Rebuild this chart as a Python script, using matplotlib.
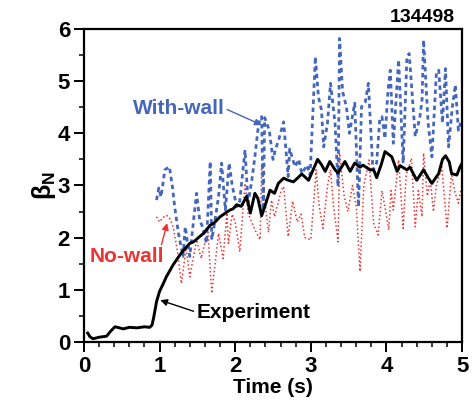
import matplotlib
matplotlib.use("Agg")
import matplotlib.pyplot as plt
from matplotlib.ticker import MultipleLocator

plt.rcParams['font.family'] = ['Liberation Sans Narrow', 'Liberation Sans', 'DejaVu Sans']
plt.rcParams['font.weight'] = 'bold'
plt.rcParams['mathtext.fontset'] = 'custom'
plt.rcParams['mathtext.rm'] = 'Liberation Sans'
plt.rcParams['mathtext.it'] = 'Liberation Sans:italic'

# ---------------- data ----------------
exp_t = [0.05, 0.08, 0.12, 0.2, 0.3, 0.35, 0.41, 0.47, 0.52, 0.6, 0.7, 0.8, 0.87, 0.90, 0.92,
         0.96, 1.0, 1.05, 1.09, 1.18, 1.27, 1.33, 1.40, 1.45, 1.53, 1.58, 1.67, 1.72, 1.80,
         1.85, 1.93, 1.97, 2.02, 2.08, 2.15, 2.2, 2.26, 2.30, 2.35, 2.39, 2.46, 2.52, 2.57,
         2.64, 2.70, 2.77, 2.83, 2.88, 2.97, 3.03, 3.09, 3.14, 3.19, 3.25, 3.32, 3.36, 3.45,
         3.52, 3.58, 3.65, 3.69, 3.78, 3.83, 3.87, 3.93, 3.98, 4.07, 4.14, 4.18, 4.27, 4.31,
         4.40, 4.49, 4.55, 4.60, 4.69, 4.74, 4.78, 4.83, 4.86, 4.93, 4.97, 5.0]
exp_beta = [0.17, 0.10, 0.06, 0.09, 0.11, 0.2, 0.29, 0.27, 0.25, 0.28, 0.27, 0.29, 0.28, 0.32, 0.45,
            0.77, 0.97, 1.12, 1.25, 1.48, 1.67, 1.78, 1.89, 1.92, 2.02, 2.08, 2.24, 2.28, 2.40,
            2.45, 2.53, 2.55, 2.63, 2.6, 2.79, 2.47, 2.85, 2.75, 2.42, 2.59, 2.91, 2.85, 3.04,
            3.14, 3.1, 3.07, 3.15, 3.22, 3.1, 3.3, 3.5, 3.4, 3.27, 3.46, 3.3, 3.24, 3.46,
            3.27, 3.43, 3.35, 3.39, 3.3, 3.3, 3.15, 3.4, 3.65, 3.55, 3.27, 3.38, 3.3, 3.35,
            3.1, 3.3, 3.15, 3.04, 3.23, 3.5, 3.57, 3.45, 3.23, 3.2, 3.35, 3.43]

wall_t = [0.96, 0.99, 1.02, 1.07, 1.13, 1.17, 1.20, 1.25, 1.31, 1.34, 1.37, 1.40, 1.45, 1.49,
          1.53, 1.57, 1.62, 1.67, 1.69, 1.73, 1.78, 1.82, 1.87, 1.92, 1.96, 2.02, 2.06, 2.13,
          2.17, 2.22, 2.26, 2.31, 2.35, 2.37, 2.39, 2.45, 2.50, 2.53, 2.58, 2.64, 2.70, 2.72,
          2.79, 2.84, 2.88, 2.95, 2.99, 3.06, 3.10, 3.14, 3.17, 3.22, 3.26, 3.32, 3.36, 3.38,
          3.42, 3.47, 3.51, 3.58, 3.63, 3.67, 3.72, 3.76, 3.82, 3.87, 3.91, 3.94, 3.98, 4.02,
          4.05, 4.09, 4.16, 4.22, 4.27, 4.30, 4.38, 4.44, 4.47, 4.49, 4.55, 4.60, 4.66, 4.69,
          4.74, 4.78, 4.82, 4.87, 4.91, 4.95, 4.98]
wall_beta = [2.72, 2.95, 2.78, 3.30, 3.36, 2.98, 2.59, 2.08, 1.64, 2.21, 1.9, 1.64, 2.34, 2.85,
             2.34, 2.2, 1.89, 3.46, 1.96, 2.3, 2.79, 3.43, 2.53, 3.43, 3.0, 2.59, 2.7, 3.68,
             2.66, 3.1, 3.55, 4.19, 4.32, 2.53, 4.3, 4.06, 3.5, 3.68, 3.9, 4.22, 3.17, 3.7,
             3.36, 3.5, 3.23, 3.39, 3.2, 5.47, 4.7, 4.45, 3.74, 4.2, 4.96, 4.19, 2.98, 5.82,
             4.8, 4.51, 4.0, 4.58, 2.59, 4.51, 4.6, 4.96, 3.30, 3.43, 4.26, 4.32, 3.9, 4.83,
             5.21, 3.81, 5.41, 3.43, 5.47, 5.53, 3.94, 4.3, 4.64, 5.79, 4.2, 3.55, 5.18, 5.21,
             4.2, 5.24, 3.74, 4.5, 4.93, 4.06, 4.2]

nowall_t = [0.96, 1.0, 1.04, 1.09, 1.13, 1.18, 1.23, 1.29, 1.35, 1.40, 1.49, 1.55, 1.60, 1.64,
            1.69, 1.78, 1.84, 1.89, 1.91, 1.96, 2.0, 2.06, 2.13, 2.17, 2.26, 2.33, 2.35, 2.40,
            2.44, 2.48, 2.52, 2.61, 2.64, 2.70, 2.76, 2.82, 2.87, 2.92, 3.0, 3.07, 3.11, 3.16,
            3.22, 3.26, 3.3, 3.36, 3.38, 3.44, 3.49, 3.55, 3.6, 3.65, 3.7, 3.77, 3.83, 3.89,
            3.94, 3.99, 4.03, 4.06, 4.09, 4.16, 4.22, 4.26, 4.33, 4.38, 4.42, 4.47, 4.49, 4.54,
            4.58, 4.62, 4.66, 4.73, 4.80, 4.86, 4.9, 4.95, 4.98]
nowall_beta = [2.40, 2.3, 2.38, 2.43, 2.38, 2.21, 1.8, 1.12, 1.8, 1.25, 1.96, 1.6, 1.9, 2.1,
               0.93, 2.08, 1.6, 2.47, 1.89, 2.45, 2.3, 1.73, 3.04, 2.47, 2.15, 1.96, 3.43, 2.6,
               2.1, 2.72, 2.4, 2.91, 2.98, 2.02, 2.7, 2.3, 2.45, 2.0, 1.96, 3.3, 2.6, 2.18,
               3.0, 3.3, 2.6, 1.92, 3.62, 2.8, 2.5, 3.0, 2.6, 1.35, 3.0, 3.49, 2.27, 2.05,
               2.9, 2.5, 2.15, 2.9, 2.53, 3.49, 2.18, 3.2, 3.52, 2.21, 2.9, 2.4, 3.62, 2.8,
               3.1, 2.5, 3.0, 3.36, 2.18, 3.23, 2.9, 2.66, 2.9]

x_ticks = [0, 1, 2, 3, 4, 5]
y_ticks = [0, 1, 2, 3, 4, 5, 6]

BLUE = '#4466BB'
RED = '#EE3333'

# ---------------- figure ----------------
fig = plt.figure(figsize=(4.74, 4.09), dpi=100)
ax = fig.add_axes([0.177, 0.164, 0.798, 0.765])

ax.plot(nowall_t, nowall_beta, color=RED, lw=1.1, linestyle=(0, (1, 1.6)))
ax.plot(wall_t, wall_beta, color=BLUE, lw=2.0, linestyle=(0, (1.6, 1.3)))
ax.plot(exp_t, exp_beta, color='black', lw=2.1)

ax.set_xlim(0, 5)
ax.set_ylim(0, 6)
ax.set_xticks(x_ticks)
ax.set_yticks(y_ticks)
ax.xaxis.set_minor_locator(MultipleLocator(0.2))
ax.yaxis.set_minor_locator(MultipleLocator(0.5))
ax.tick_params(which='major', direction='out', length=7, width=1.4, labelsize=16, pad=3)
ax.tick_params(which='minor', direction='out', length=3.5, width=1.1)
for lab in ax.get_xticklabels() + ax.get_yticklabels():
    lab.set_fontweight('bold')
for s in ax.spines.values():
    s.set_linewidth(1.6)

ax.set_xlabel('Time (s)', fontsize=15, fontweight='bold', labelpad=1)
ax.set_ylabel(r'$\mathrm{\beta_N}$', fontsize=18, labelpad=0)

ax.annotate('With-wall', xy=(2.35, 4.16), xytext=(1.25, 4.48),
            fontsize=15, fontweight='bold', color=BLUE, ha='center', va='center',
            arrowprops=dict(arrowstyle='-|>', color=BLUE, lw=1.0, mutation_scale=10,
                            shrinkA=0, shrinkB=0, relpos=(1.0, 0.5)))
ax.annotate('No-wall', xy=(1.10, 2.28), xytext=(0.57, 1.63),
            fontsize=15, fontweight='bold', color=RED, ha='center', va='center',
            arrowprops=dict(arrowstyle='-|>', color=RED, lw=1.0, mutation_scale=10,
                            shrinkA=0, shrinkB=0, relpos=(0.95, 0.95)))
ax.annotate('Experiment', xy=(1.01, 0.80), xytext=(2.24, 0.57),
            fontsize=15, fontweight='bold', color='black', ha='center', va='center',
            arrowprops=dict(arrowstyle='-|>', color='black', lw=1.0, mutation_scale=10,
                            shrinkA=0, shrinkB=0, relpos=(0.0, 0.5)))

fig.text(0.96, 0.957, '134498', fontsize=14, fontweight='bold', ha='right', va='center')

fig.savefig('out.png', dpi=100)
